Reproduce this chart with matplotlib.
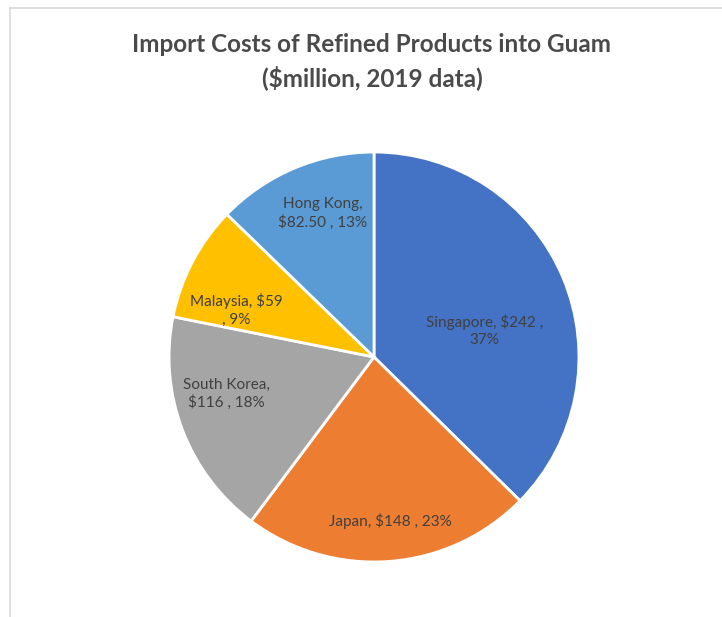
import matplotlib.pyplot as plt
from matplotlib.lines import Line2D

countries = ["Singapore", "Japan", "South Korea", "Malaysia", "Hong Kong"]
costs = [242, 148, 116, 59, 82.50]
cost_text = ["$242", "$148", "$116", "$59", "$82.50"]
colors = ["#4472C4", "#ED7D31", "#A5A5A5", "#FFC000", "#5B9BD5"]

# label layout: position inside the pie (data units) and where the line breaks
label_pos = [(0.54, 0.13), (0.08, -0.80), (-0.72, -0.18), (-0.67, 0.23), (-0.25, 0.70)]
label_fmt = ["{c}, {v} ,\n{p}%", "{c}, {v} , {p}%", "{c},\n{v} , {p}%",
             "{c}, {v}\n, {p}%", "{c},\n{v} , {p}%"]

plt.rcParams['font.family'] = ['Lato', 'DejaVu Sans']

W, H = 722, 617
fig = plt.figure(figsize=(W / 100, H / 100), dpi=100)

# thin chart-area border (top and left edges visible)
fig.add_artist(Line2D([10 / W, 10 / W], [0, 1 - 8 / H], color="#d9d9d9", lw=1.2))
fig.add_artist(Line2D([10 / W, 1], [1 - 8 / H, 1 - 8 / H], color="#d9d9d9", lw=1.2))

cx, cy, r = 374, 357, 207
ax = fig.add_axes([(cx - r) / W, 1 - (cy + r) / H, 2 * r / W, 2 * r / H])
ax.pie(costs, colors=colors, startangle=90, counterclock=False, radius=1,
       wedgeprops=dict(edgecolor="white", linewidth=2))
ax.set_xlim(-1.01, 1.01)
ax.set_ylim(-1.01, 1.01)
ax.set_aspect("auto")
ax.axis("off")

total = sum(costs)
for i in range(len(costs)):
    pct = round(costs[i] / total * 100)
    txt = label_fmt[i].format(c=countries[i], v=cost_text[i], p=pct)
    ax.text(label_pos[i][0], label_pos[i][1], txt, ha="center", va="center",
            fontsize=11, color="#404040", linespacing=1.3)

fig.text(372 / W, 1 - 45 / H, "Import Costs of Refined Products into Guam",
         ha="center", va="center", fontsize=17.5, fontweight="bold", color="#4a4a4a")
fig.text(372 / W, 1 - 78 / H, "($million, 2019 data)",
         ha="center", va="center", fontsize=17.5, fontweight="bold", color="#4a4a4a")

fig.savefig("out.png", dpi=100)
